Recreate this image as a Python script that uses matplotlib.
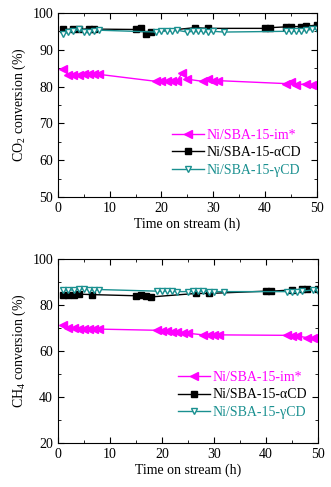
import matplotlib
matplotlib.use("Agg")
import matplotlib.pyplot as plt
from matplotlib.ticker import MultipleLocator

plt.rcParams['font.family'] = ['Liberation Serif', 'DejaVu Serif']
plt.rcParams['mathtext.fontset'] = 'custom'
plt.rcParams['mathtext.rm'] = 'Liberation Serif'
plt.rcParams['mathtext.it'] = 'Liberation Serif:italic'

MAGENTA = '#ff00ff'
TEAL = '#1a9090'

labels = ['Ni/SBA-15-im*', 'Ni/SBA-15-\u03b1CD', 'Ni/SBA-15-\u03b3CD']

# CO2 conversion (top panel)
co2_im_x = [1, 2, 3, 4, 5, 6, 7, 8, 19, 20, 21, 22, 23, 24, 25, 28, 29, 30, 31, 44, 45, 46, 48, 49]
co2_im_y = [84.8, 83.2, 83.0, 83.0, 83.3, 83.3, 83.3, 83.3, 81.4, 81.6, 81.6, 81.6, 81.6, 83.6, 82.0,
            81.4, 82.0, 81.6, 81.6, 80.8, 81.2, 80.5, 80.7, 80.5]
co2_a_x = [1, 3, 4, 6, 7, 15, 16, 17, 18, 26.5, 29, 40, 41, 44, 45, 47, 48, 50]
co2_a_y = [95.5, 95.6, 95.5, 95.7, 95.6, 95.5, 95.8, 94.3, 94.8, 96.0, 95.8, 95.8, 96.0, 96.2, 96.3,
           96.3, 96.4, 96.7]
co2_g_x = [1, 2, 3, 4, 5, 6, 7, 8, 19, 20, 21, 22, 23, 25, 26, 27, 28, 29, 30, 32, 44, 45, 46, 47, 48, 49, 50]
co2_g_y = [94.3, 94.8, 95.0, 95.5, 94.8, 94.8, 95.2, 95.3, 94.8, 95.0, 95.2, 95.0, 95.3, 94.8, 95.0,
           95.0, 95.0, 94.8, 95.0, 94.8, 95.0, 95.0, 95.0, 95.0, 95.4, 95.5, 95.6]

# CH4 conversion (bottom panel)
ch4_im_x = [1, 2, 3, 4, 5, 6, 7, 8, 19, 20, 21, 22, 23, 24, 25, 28, 29, 30, 31, 44, 45, 46, 48, 49]
ch4_im_y = [71.2, 70.2, 69.8, 69.5, 69.5, 69.5, 69.5, 69.5, 69.0, 68.7, 68.5, 68.3, 68.3, 68.0, 67.7,
            67.0, 67.0, 67.0, 67.0, 66.8, 66.3, 66.5, 65.8, 65.5]
ch4_a_x = [1, 2, 3, 4, 6.5, 15, 16, 17, 18, 26.5, 29, 40, 41, 45, 47, 48, 50]
ch4_a_y = [84.3, 84.5, 84.5, 84.7, 84.5, 84.0, 84.2, 84.0, 83.5, 85.0, 85.0, 86.0, 86.0, 86.5, 86.8,
           87.0, 87.0]
ch4_g_x = [1, 2, 3, 4, 5, 6, 7, 8, 19, 20, 21, 22, 23, 25, 26, 27, 28, 29, 30, 32, 44, 45, 46, 47, 49, 50]
ch4_g_y = [86.5, 86.5, 86.5, 86.8, 87.0, 86.5, 86.5, 86.7, 86.0, 86.0, 86.0, 86.0, 85.8, 85.8, 86.0,
           86.0, 86.0, 85.8, 85.8, 85.8, 85.8, 85.5, 85.5, 86.0, 86.5, 86.2]

fig = plt.figure(figsize=(3.31, 4.87), dpi=100)
ax1 = fig.add_axes([0.175, 0.5955, 0.782, 0.378])
ax2 = fig.add_axes([0.175, 0.0903, 0.785, 0.378])


def draw(ax, im, a, g, ylim, ymaj, ylabel, leg_anchor):
    ax.plot(im[0], im[1], color=MAGENTA, marker='<', ms=5.5, lw=1, label=labels[0])
    ax.plot(a[0], a[1], color='black', marker='s', ms=4, lw=1, label=labels[1])
    ax.plot(g[0], g[1], color=TEAL, marker='v', ms=5, mfc='white', mec=TEAL, lw=1, label=labels[2])
    ax.set_xlim(0, 50)
    ax.set_ylim(*ylim)
    ax.xaxis.set_major_locator(MultipleLocator(10))
    ax.xaxis.set_minor_locator(MultipleLocator(5))
    ax.yaxis.set_major_locator(MultipleLocator(ymaj))
    ax.yaxis.set_minor_locator(MultipleLocator(ymaj / 2))
    ax.tick_params(which='both', direction='in', right=True, top=True, labelsize=10)
    ax.tick_params(which='major', length=4)
    ax.tick_params(which='minor', length=2)
    ax.set_xlabel('Time on stream (h)', fontsize=10, labelpad=2)
    ax.set_ylabel(ylabel, fontsize=10, labelpad=3)
    leg = ax.legend(loc='lower right', bbox_to_anchor=leg_anchor, frameon=False, fontsize=10,
                    handlelength=2.3, handletextpad=0.2, labelspacing=0.33, borderaxespad=0)
    for txt, c in zip(leg.get_texts(), [MAGENTA, 'black', TEAL]):
        txt.set_color(c)


draw(ax1, (co2_im_x, co2_im_y), (co2_a_x, co2_a_y), (co2_g_x, co2_g_y),
     (50, 100), 10, 'CO$_2$ conversion (%)', (0.96, 0.08))
draw(ax2, (ch4_im_x, ch4_im_y), (ch4_a_x, ch4_a_y), (ch4_g_x, ch4_g_y),
     (20, 100), 20, 'CH$_4$ conversion (%)', (0.98, 0.1))

fig.savefig('out.png', dpi=100)
